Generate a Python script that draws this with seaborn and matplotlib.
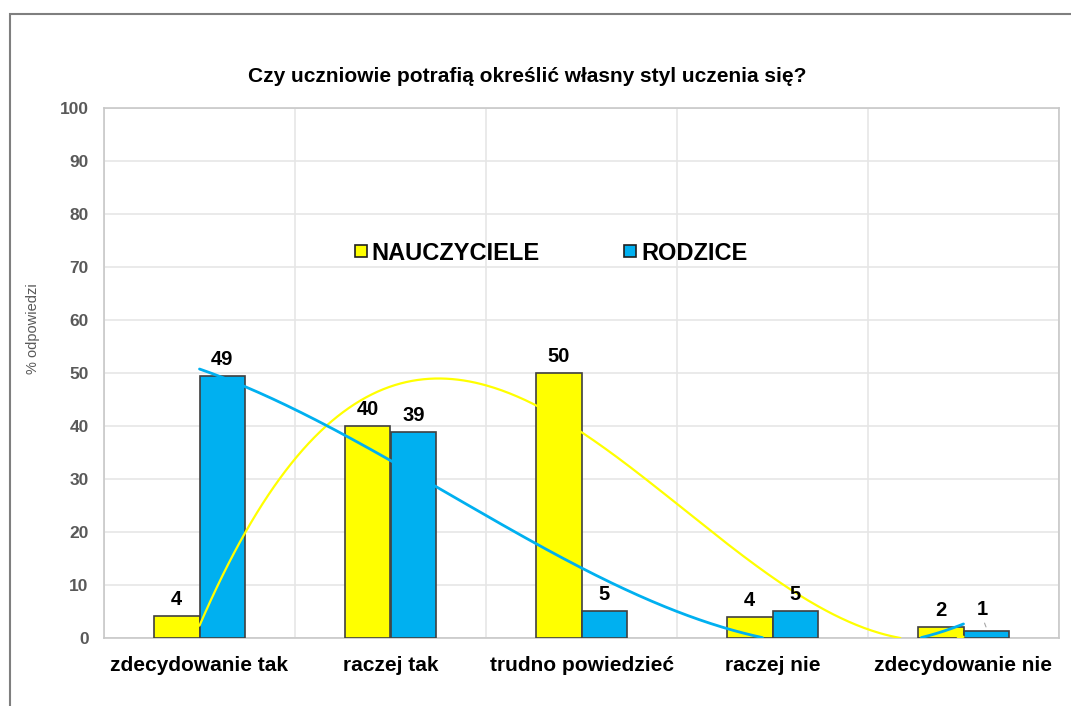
import numpy as np
import pandas as pd
import matplotlib
matplotlib.use("Agg")
import matplotlib.pyplot as plt
import seaborn as sns
from matplotlib.lines import Line2D
from matplotlib.patches import Rectangle

# data
categories = ["zdecydowanie tak", "raczej tak", "trudno powiedzieć", "raczej nie", "zdecydowanie nie"]
nauczyciele = [4.2, 40.0, 50.0, 4.0, 2.1]
rodzice = [49.4, 38.9, 5.1, 5.1, 1.3]
series = ["NAUCZYCIELE", "RODZICE"]
colors = ["#FFFF00", "#00B0F0"]

df = pd.DataFrame({
    "kategoria": categories * 2,
    "grupa": [series[0]] * 5 + [series[1]] * 5,
    "wartosc": nauczyciele + rodzice,
})

sns.set_theme(style="white")
plt.rcParams["font.family"] = ["Liberation Sans", "DejaVu Sans"]
plt.rcParams["text.color"] = "black"

fig = plt.figure(figsize=(10.71, 7.06), dpi=100)
ax = fig.add_axes([104 / 1071, 1 - 638 / 706, 955 / 1071, 530 / 706])

sns.barplot(data=df, x="kategoria", y="wartosc", hue="grupa", order=categories,
            hue_order=series, palette=colors, width=0.48, edgecolor="#404040",
            linewidth=1.2, saturation=1, legend=False, ax=ax, zorder=3)

for i, cont in enumerate(ax.containers):
    texts = ax.bar_label(cont, fmt="{:.0f}", padding=5, fontsize=14.5, fontweight="bold",
                         color="black", zorder=6)
    if i == 1:
        # last label sits a bit higher with a small leader line
        t = texts[-1]
        t.set_position((-3, 9))
        ax.annotate("", xy=(4.123, rodzice[-1] + 0.3), xytext=(4.105, rodzice[-1] + 2.0),
                    arrowprops=dict(arrowstyle="-", color="#A6A6A6", lw=0.8), zorder=5)

# polynomial trendlines (order 3), clipped at 0 like the original
xs = np.linspace(0, 4, 400)
for vals, col, lw in [(nauczyciele, colors[0], 1.6), (rodzice, colors[1], 2.0)]:
    coef = np.polyfit(np.arange(len(vals)), vals, 3)
    ys = np.polyval(coef, xs)
    ys = np.where(ys < 0, np.nan, ys)
    ax.plot(xs, ys, color=col, lw=lw, zorder=4)

ax.set_xlim(-0.5, 4.5)
ax.set_ylim(0, 100)
ax.set_yticks(np.arange(0, 101, 10))
ax.set_xticks(np.arange(-0.5, 4.6, 1), minor=True)
ax.grid(True, which="major", axis="y", color="#E6E6E6", lw=1.2, zorder=0)
ax.grid(True, which="minor", axis="x", color="#E6E6E6", lw=1.2, zorder=0)
ax.set_axisbelow(True)
ax.tick_params(axis="both", which="both", length=0)
ax.tick_params(axis="x", pad=13)
ax.tick_params(axis="y", pad=11)
for lab in ax.get_xticklabels():
    lab.set_fontsize(15)
    lab.set_fontweight("bold")
    lab.set_color("black")
for lab in ax.get_yticklabels():
    lab.set_fontsize(12.5)
    lab.set_fontweight("bold")
    lab.set_color("#595959")
ax.set_xlabel("")
ax.set_ylabel("")
for side in ["left", "top", "right", "bottom"]:
    ax.spines[side].set_color("#C8C8C8")
    ax.spines[side].set_linewidth(1.2)

fig.text(33 / 1071, 1 - 329 / 706, "% odpowiedzi", rotation=90, ha="center", va="center",
         fontsize=10.5, color="#595959")
fig.text(527 / 1071, 1 - 77 / 706, "Czy uczniowie potrafią określić własny styl uczenia się?",
         ha="center", va="center", fontsize=15, fontweight="bold", color="black")

handles = [Line2D([], [], ls="none", marker="s", markersize=9, markerfacecolor=c,
                  markeredgecolor="#202020", markeredgewidth=1.2) for c in colors]
leg = ax.legend(handles, series, ncol=2, frameon=False, loc="center",
                bbox_to_anchor=(0.468, 0.726), handlelength=0.5, handletextpad=0.2,
                columnspacing=3.6, prop={"size": 17, "weight": "bold"})
for t in leg.get_texts():
    t.set_color("black")

fig.add_artist(Rectangle((10 / 1071, -0.1), 1.2, 1.1 - 14 / 706, transform=fig.transFigure,
                         fill=False, edgecolor="#7F7F7F", lw=1.5))

fig.savefig("out.png", dpi=100, facecolor="white")
